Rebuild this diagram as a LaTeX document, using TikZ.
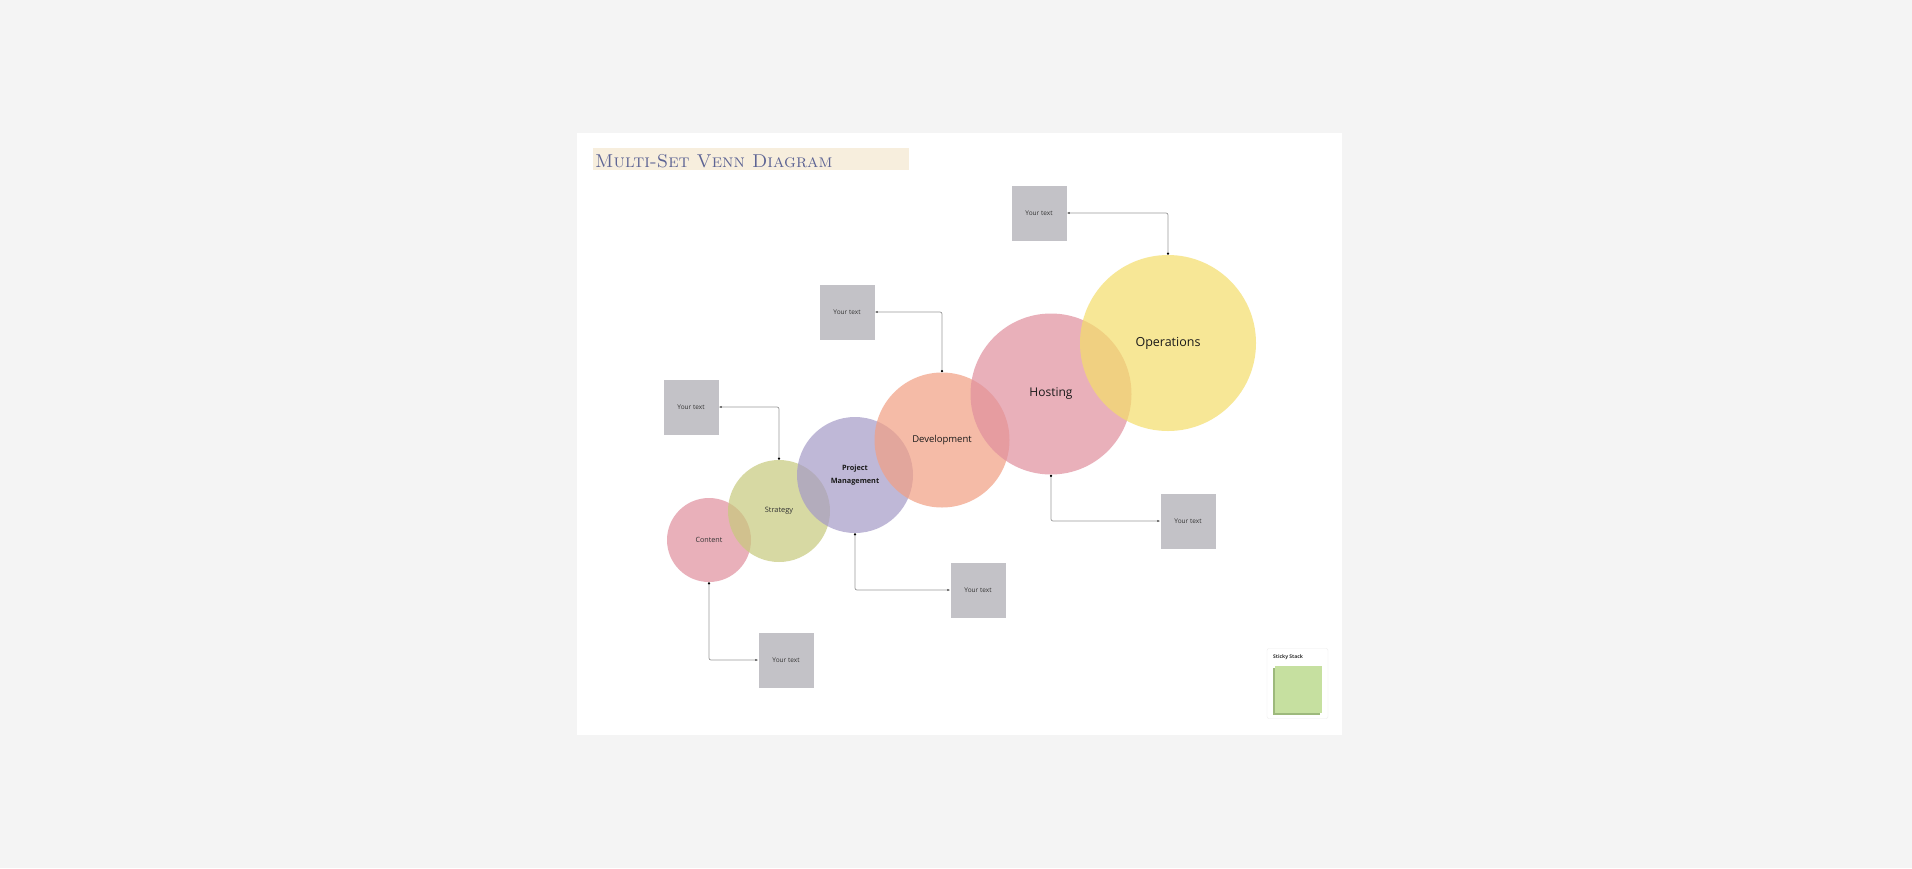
\documentclass[tikz,border=0pt]{standalone}
\usepackage{fontspec}
\setsansfont{Open Sans}
\usepackage{xcolor}
\usepackage{tikz}
\usetikzlibrary{arrows.meta}
\definecolor{page}{HTML}{F4F4F4}
\definecolor{band}{HTML}{F7EEDD}
\definecolor{ink}{HTML}{5D6494}
\definecolor{txt}{HTML}{333333}
\definecolor{txtdark}{HTML}{1A1A1A}
\definecolor{notegray}{HTML}{C3C2C7}
\definecolor{wire}{HTML}{999999}
\definecolor{cContent}{HTML}{E08F9E}
\definecolor{cStrategy}{HTML}{C7C97C}
\definecolor{cPM}{HTML}{A59AC7}
\definecolor{cDev}{HTML}{F29F83}
\definecolor{cHost}{HTML}{E08F9E}
\definecolor{cOps}{HTML}{F4DE6A}
\definecolor{sticky}{HTML}{C6E0A0}
\definecolor{stickyshade}{HTML}{9DB97C}
\newcommand\sz[1]{\fontsize{#1}{#1}\selectfont}

\begin{document}
\begin{tikzpicture}[x=1pt,y=-1pt,
    set/.style={circle,inner sep=0pt,fill opacity=0.7,text opacity=1,
      text=txt,align=center,font=\sffamily},
    note/.style={fill=notegray,minimum size=55pt,inner sep=0pt,
      text=txt,font=\sffamily\sz{6.5}},
    link/.style={draw=wire,line width=0.7pt,rounded corners=2pt,
      {Circle[length=2.2pt,color=black]}-{Latex[length=3pt,color=black!70]}}]
    \useasboundingbox (0,0) rectangle (1912,868);
    \fill[page] (0,0) rectangle (1912,868);
    \fill[white] (577,133) rectangle (1342,735);

    % title
    \fill[band] (593,148) rectangle (909,170);
    \path (595,167) node[anchor=base west,inner sep=0pt,text=ink] (title)
      {\sz{18.6}\textsc{Multi-Set Venn Diagram}};

    % sets
    \path
    (709,540) node[set,fill=cContent,minimum size=84pt] (content) {\sz{7.2}Content}
    (779,511) node[set,fill=cStrategy,minimum size=102pt] (strat) {\sz{7.4}Strategy}
    (855,475) node[set,fill=cPM,minimum size=116pt,text=txtdark] (pm) {\sz{7.3}\bfseries Project\\[1.5pt]\sz{7.3}\bfseries Management}
    (942,440) node[set,fill=cDev,minimum size=135pt,text=txtdark] (dev) {\sz{9.5}Development}
    (1051,394) node[set,fill=cHost,minimum size=161pt,text=txtdark] (host) {\sz{12}Hosting}
    (1168,343) node[set,fill=cOps,minimum size=176pt,text=txtdark] (ops) {\sz{12.5}Operations}
    ;

    % notes
    \path
    (1039,213) node[note] (obox) {Your text}
    (847,312) node[note] (dbox) {Your text}
    (691,407) node[note] (sbox) {Your text}
    (1188,521) node[note] (hbox) {Your text}
    (978,590) node[note] (pbox) {Your text}
    (786,660) node[note] (cbox) {Your text}
    ;

    \draw[link] (ops.north) |- (obox.east);
    \draw[link] (dev.north) |- (dbox.east);
    \draw[link] (strat.north) |- (sbox.east);
    \draw[link] (host.south) |- (hbox.west);
    \draw[link] (pm.south) |- (pbox.west);
    \draw[link] (content.south) |- (cbox.west);

    % sticky stack
    \node[draw=black!7,fill=white,rounded corners=2pt,minimum width=61pt,
      minimum height=70pt,inner sep=0pt] (stack) at (1297.5,683.5) {};
    \path (1273,657) node[anchor=west,inner sep=0pt,text=txt,font=\sffamily\bfseries\sz{5}] (stacklbl) {Sticky Stack};
    \fill[stickyshade] (1273,668) rectangle (1320,715);
    \fill[sticky] (1275,666) rectangle (1322,713);
\end{tikzpicture}
\end{document}
